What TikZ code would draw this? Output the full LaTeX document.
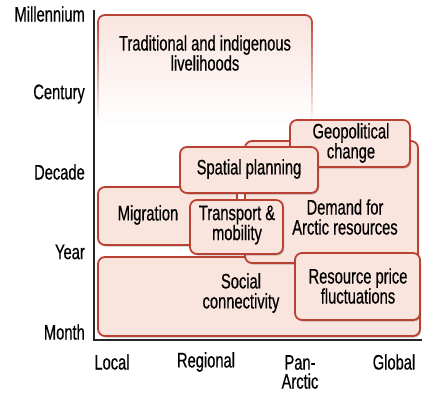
\documentclass[tikz,border=0pt]{standalone}
\usepackage{fontspec}
\setmainfont{Liberation Sans}[FakeStretch=0.7, FakeBold=0.5]
\usetikzlibrary{shadows, fadings}
\definecolor{boxedge}{RGB}{186,66,50}
\definecolor{boxfill}{RGB}{249,228,222}

% soft fade at the bottom of the long-term box
\tikzfading[name=livefade, top color=transparent!0, middle color=transparent!10, bottom color=transparent!100]

\begin{document}
\begin{tikzpicture}[x=1pt, y=-1pt,
    plainbox/.style = {draw=boxedge, fill=boxfill, line width=1.8pt, rounded corners=7pt},
    box/.style = {plainbox, drop shadow={shadow xshift=1.2pt, shadow yshift=-1.5pt, opacity=0.4, fill=black!60}},
    lbl/.style = {align=center, font=\fontsize{21}{20}\selectfont, inner sep=0pt},
    ticklbl/.style = {align=center, font=\fontsize{21}{19}\selectfont, inner sep=0pt},
    axis/.style = {draw=black!85, line width=2.4pt}
]
\useasboundingbox (0,0) rectangle (423,394);

% Axes
\coordinate (origin) at (94,340);
\coordinate (ytop) at (94,10);
\coordinate (xend) at (422,340);
\draw [axis] (ytop) -- (origin) -- (xend);

% Time scale
\node (millennium) [ticklbl, anchor=east] at (85,14) {Millennium};
\node (century) [ticklbl, anchor=east] at (85,94) {Century};
\node (decade) [ticklbl, anchor=east] at (85,172) {Decade};
\node (year) [ticklbl, anchor=east] at (85,252) {Year};
\node (month) [ticklbl, anchor=east] at (85,332) {Month};

% Spatial scale
\node (local) [ticklbl] at (112,362) {Local};
\node (regional) [ticklbl] at (206,362) {Regional};
\node (panarctic) [ticklbl] at (300,372) {Pan-\\Arctic};
\node (global) [ticklbl] at (394,362) {Global};

% Back row
\draw [plainbox, path fading=livefade] (98,15) rectangle (312,122);
\node (trad) [lbl] at (205,53) {Traditional and indigenous\\livelihoods};

\draw [box] (98,257) rectangle (420,336);
\node (social) [lbl] at (241,293) {Social\\connectivity};

\draw [box] (245,141) rectangle (418,263);
\node (demand) [lbl] at (345,217) {Demand for\\Arctic resources};

\draw [box] (295,253) rectangle (420,320);
\node (price) [lbl] at (358,286) {Resource price\\fluctuations};

\draw [box] (290,120) rectangle (410,167);
\node (geo) [lbl] at (351,143) {Geopolitical\\change};

% Front row
\draw [box] (98,187) rectangle (237,245);
\node (migr) [lbl] at (148,215) {Migration};

\draw [box] (180,147) rectangle (318,193);
\node (spatial) [lbl] at (249,169) {Spatial planning};

\draw [box] (190,200) rectangle (283,254);
\node (transp) [lbl] at (237,225) {Transport \&\\mobility};

\end{tikzpicture}
\end{document}
